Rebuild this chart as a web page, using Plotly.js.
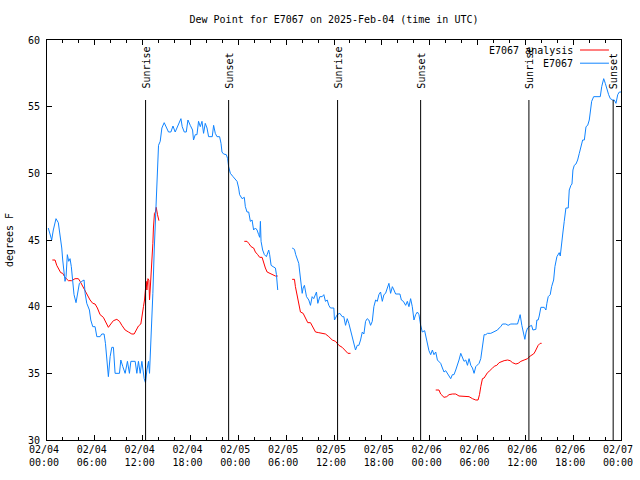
<!DOCTYPE html>
<html>
<head>
<meta charset="utf-8">
<script src="https://cdn.plot.ly/plotly-3.0.1.min.js"></script>
<style>html,body{margin:0;padding:0;background:#fff;}#chart{width:640px;height:480px;}</style>
</head>
<body>
<div id="chart"></div>
<script>
// ---- Data (hours after 2025-02-04 00:00 UTC, dew point in °F; null = gap) ----
const chartTitle = "Dew Point for E7067 on 2025-Feb-04 (time in UTC)";
const yTitle = "degrees F";
const seriesNames = ["E7067 analysis", "E7067"];

const blueHours = [0.16,0.29,0.59,0.79,1.13,1.42,1.63,1.85,1.97,2.14,
  2.26,2.39,2.55,2.73,2.89,3.05,3.23,3.39,3.64,3.81,
  4.06,4.36,4.65,4.78,4.99,5.32,5.49,5.74,6.03,6.25,
  6.66,6.87,7.16,7.33,7.50,7.70,7.92,8.13,8.33,8.54,
  9.09,9.26,9.51,9.80,10.09,10.34,10.52,10.77,11.06,11.27,
  11.47,11.69,11.90,12.19,12.35,12.53,12.73,12.86,13.07,13.28,
  13.45,13.61,13.79,13.99,14.20,14.41,14.70,14.95,15.24,15.54,
  15.80,16.08,16.37,16.62,16.80,16.96,17.22,17.47,17.68,17.97,
  18.26,18.38,18.60,18.81,19.01,19.23,19.44,19.64,19.85,20.07,
  20.27,20.73,20.90,21.11,21.32,21.65,21.83,21.95,22.15,22.49,
  22.66,22.78,23.00,23.34,23.62,23.84,24.04,24.16,24.47,24.75,
  24.88,25.09,25.30,25.51,25.72,25.92,26.14,26.35,26.55,26.68,
  26.77,26.85,27.05,27.27,27.52,27.68,27.81,27.93,28.11,28.36,
  28.65,28.78,28.94,
  null,
  30.75,31.04,31.20,31.38,31.58,31.70,31.88,32.01,32.13,32.29,
  32.55,32.84,33.05,33.26,33.46,33.68,33.80,33.97,34.22,34.52,
  34.72,34.93,35.15,35.35,35.56,35.98,36.06,36.40,36.73,37.03,
  37.23,37.45,37.66,37.86,38.07,38.29,38.49,38.70,38.92,39.12,
  39.33,39.55,39.75,39.96,40.17,40.37,40.59,40.80,41.00,41.22,
  41.43,41.63,41.84,42.06,42.26,42.47,42.69,42.89,43.10,43.32,
  43.52,43.73,44.27,44.45,44.70,44.99,45.20,45.40,45.61,45.82,
  46.03,46.24,46.46,46.66,46.87,47.08,47.37,47.62,47.91,48.13,
  48.34,48.54,48.76,48.97,49.17,49.38,49.60,49.80,50.01,50.22,
  50.43,50.64,50.85,51.05,51.27,51.48,51.68,51.90,52.11,52.31,
  52.53,52.74,52.94,53.16,53.37,53.57,53.78,54.00,54.20,54.41,
  54.62,54.83,55.04,55.25,55.67,56.08,56.51,56.71,56.92,57.14,
  57.55,57.84,58.18,58.60,59.02,59.22,59.35,59.56,59.78,59.94,
  60.10,60.28,60.48,60.78,60.95,61.32,61.45,61.61,61.74,61.95,
  62.37,62.58,62.70,62.87,63.12,63.30,63.55,63.71,63.96,64.25,
  64.38,64.55,64.72,64.88,65.09,65.38,65.51,65.72,65.85,65.97,
  66.14,66.35,66.56,66.77,66.98,67.19,67.40,67.61,67.82,68.02,
  68.15,68.32,68.57,68.86,69.40,69.58,69.83,70.03,70.24,70.45,
  70.66,70.96,71.16,71.37,71.59,71.79,72.00];

const blueDew = [45.9,45.6,45.0,45.75,46.6,46.3,45.5,44.4,43.5,42.25,
  41.9,42.25,43.9,43.4,43.6,43.0,41.75,40.9,40.3,41.0,
  41.75,41.9,42.0,41.0,40.25,39.75,39.0,38.5,38.5,37.75,
  37.75,37.95,37.95,37.25,35.75,34.75,36.25,36.95,36.95,35.0,
  35.0,36.0,35.5,35.0,35.9,35.0,35.9,35.9,35.9,35.0,
  35.9,35.0,35.9,34.6,34.3,35.25,35.9,35.0,37.5,41.0,
  44.25,47.0,50.0,52.1,52.4,53.4,53.8,53.5,53.1,53.1,
  53.55,53.1,53.5,53.9,54.1,53.5,53.1,53.1,54.0,53.6,
  53.25,52.5,52.9,52.9,53.9,53.5,53.9,53.0,53.75,53.4,
  52.75,52.75,53.6,53.0,52.75,52.75,52.25,51.6,51.45,51.4,
  51.1,50.5,50.0,49.75,49.5,49.4,48.9,48.4,48.1,48.2,
  47.5,47.1,47.1,46.4,46.5,45.75,45.9,45.75,45.4,45.2,
  46.4,44.9,44.25,43.9,43.75,44.0,44.25,43.9,43.1,43.0,
  42.9,42.4,41.25,
  null,
  44.4,44.3,43.9,43.6,43.25,42.6,41.75,41.0,41.4,41.6,
  40.75,40.5,40.1,40.75,40.6,41.0,41.1,40.25,40.75,40.75,
  40.9,40.4,40.5,40.1,39.9,39.9,39.0,39.4,39.5,39.25,
  39.25,38.6,39.1,38.75,38.25,37.75,37.25,36.75,37.1,37.1,
  37.5,38.1,37.95,38.9,39.1,39.0,38.6,38.9,40.0,40.5,
  40.4,40.9,41.1,40.4,40.9,41.0,41.4,41.75,41.0,41.5,
  41.25,40.95,40.95,40.5,40.4,40.1,40.4,40.0,40.6,40.0,
  39.0,39.4,39.6,39.4,38.6,38.1,38.2,37.5,36.7,36.4,
  36.75,36.4,36.6,36.0,35.9,35.75,35.4,35.1,35.2,35.0,
  34.9,34.6,34.9,34.9,35.25,35.6,36.0,36.5,36.25,35.9,
  36.0,35.6,36.1,35.6,35.4,35.0,35.5,35.6,35.75,36.1,
  36.9,37.9,37.9,38.0,38.0,38.1,38.25,38.4,38.5,38.7,
  38.7,38.6,38.7,38.7,38.7,39.1,39.4,38.6,38.1,37.55,
  38.1,38.4,38.5,38.6,38.25,38.3,39.0,39.0,39.3,39.95,
  39.95,39.75,40.25,40.75,40.9,41.5,42.0,43.0,43.75,44.05,
  43.8,44.9,45.6,46.4,47.4,47.4,48.75,49.1,49.2,50.25,
  50.6,50.7,51.0,51.5,52.0,52.5,52.5,53.5,53.6,54.0,
  54.6,55.4,55.75,55.75,55.75,56.5,57.1,56.75,56.25,55.9,
  55.6,55.5,55.5,55.25,55.9,56.1,56.1];

const redHours = [0.67,1.01,1.22,1.42,1.72,1.97,2.26,2.68,3.10,3.52,
  3.93,4.15,4.56,4.99,5.40,5.74,6.03,6.32,6.66,7.07,
  7.41,7.70,8.00,8.33,8.76,9.09,9.39,9.80,10.22,10.64,
  10.93,11.18,11.47,11.77,11.90,12.10,12.23,12.35,12.44,12.53,
  12.66,12.78,12.86,12.94,13.07,13.19,13.28,13.35,13.48,13.61,
  13.70,13.86,14.04,
  null,
  24.75,25.09,25.30,25.60,25.92,26.14,26.43,26.68,26.98,27.18,
  27.39,27.61,27.81,28.24,28.65,28.94,
  null,
  30.75,31.04,31.16,31.38,31.58,31.79,32.13,32.42,32.71,33.05,
  33.39,33.68,34.09,34.52,34.93,35.35,35.78,36.19,36.61,37.03,
  37.45,37.74,38.07,
  null,
  48.76,49.17,49.38,49.80,50.14,50.43,50.85,51.27,51.68,52.11,
  52.53,52.94,53.37,53.78,54.07,54.25,54.41,54.62,54.83,55.04,
  55.25,55.46,55.67,55.88,56.17,56.42,56.71,57.01,57.34,57.77,
  58.09,58.39,58.81,59.10,59.44,59.85,60.28,60.61,61.03,61.20,
  61.45,61.61,61.86,62.04];

const redDew = [43.5,43.5,43.1,42.9,42.55,42.5,42.2,41.95,41.95,42.1,
  42.1,41.9,41.45,41.0,40.5,40.25,40.2,39.9,39.4,39.2,
  38.75,38.45,38.7,38.95,39.05,38.9,38.6,38.25,38.1,37.95,
  37.95,38.2,38.55,38.7,39.1,40.0,40.5,41.4,41.9,41.25,
  42.1,42.0,40.5,41.25,42.4,43.5,44.75,45.9,47.0,47.1,
  47.45,46.9,46.45,
  null,
  44.9,44.9,44.75,44.5,44.4,44.1,43.9,43.7,43.7,43.25,
  42.9,42.6,42.55,42.45,42.3,42.3,
  null,
  42.05,42.05,41.5,40.75,40.1,39.6,39.5,39.1,38.8,38.8,
  38.4,38.1,38.05,38.0,37.95,37.75,37.5,37.4,37.1,36.95,
  36.7,36.5,36.5,
  null,
  33.75,33.75,33.45,33.2,33.25,33.4,33.45,33.45,33.3,33.3,
  33.3,33.25,33.1,33.0,33.0,33.4,34.0,34.6,34.65,34.9,
  35.05,35.15,35.3,35.4,35.55,35.6,35.8,35.9,35.95,36.0,
  35.95,35.8,35.7,35.75,35.9,36.0,36.1,36.3,36.45,36.6,
  36.9,37.1,37.25,37.25];

const sunTimes = ["2025-02-04 12:22","2025-02-04 22:47","2025-02-05 12:27",
                  "2025-02-05 22:52","2025-02-06 12:27","2025-02-06 23:01"];
const sunLabels = ["Sunrise","Sunset","Sunrise","Sunset","Sunrise","Sunset"];

// ---- helpers ----
const baseMs = Date.UTC(2025, 1, 4, 0, 0, 0);
function toDate(h) {
  if (h === null) return null;
  return new Date(baseMs + h * 3600000).toISOString().replace('T', ' ').slice(0, 19);
}

const RED = 'rgb(255,0,0)';
const BLUE = 'rgb(16,132,255)';
const FONT = 'DejaVu Sans Mono, Liberation Mono, monospace';

const traces = [
  { type: 'scatter', mode: 'lines', name: seriesNames[0],
    x: redHours.map(toDate), y: redDew,
    line: { color: RED, width: 1 }, showlegend: false, connectgaps: false },
  { type: 'scatter', mode: 'lines', name: seriesNames[1],
    x: blueHours.map(toDate), y: blueDew,
    line: { color: BLUE, width: 1 }, showlegend: false, connectgaps: false }
];

const shapes = sunTimes.map(t => ({
  type: 'line', xref: 'x', yref: 'paper', x0: t, x1: t, y0: 0, y1: 0.85,
  line: { color: 'black', width: 1 }
}));

const annotations = sunTimes.map((t, i) => ({
  x: t, xref: 'x', y: 0.875, yref: 'paper', text: sunLabels[i],
  textangle: -90, showarrow: false, xanchor: 'center', yanchor: 'bottom',
  font: { family: FONT, size: 10, color: 'black' }, borderpad: 0
}));

// manual key (text on the left, line sample on the right, like the original)
const keyColors = [RED, BLUE];
const keyRows = [0.975, 0.942];
seriesNames.forEach((nm, i) => {
  annotations.push({ xref: 'paper', yref: 'paper', x: 0.918, y: keyRows[i],
    text: nm, showarrow: false, xanchor: 'right', yanchor: 'middle', borderpad: 0,
    font: { family: FONT, size: 10, color: 'black' } });
  shapes.push({ type: 'line', xref: 'paper', yref: 'paper',
    x0: 0.9286, x1: 0.979, y0: keyRows[i], y1: keyRows[i],
    line: { color: keyColors[i], width: 1 } });
});

const layout = {
  width: 640, height: 480,
  margin: { l: 47, r: 19, t: 40, b: 40, pad: 0 },
  paper_bgcolor: 'white', plot_bgcolor: 'white',
  font: { family: FONT, size: 10, color: 'black' },
  title: { text: chartTitle, xref: 'paper', x: 0.5, xanchor: 'center',
           yref: 'container', y: 0.96, yanchor: 'middle',
           font: { family: FONT, size: 10, color: 'black' } },
  xaxis: {
    type: 'date',
    range: ['2025-02-04 00:00:00', '2025-02-07 00:00:00'],
    tick0: '2025-02-04 00:00:00', dtick: 6 * 3600000,
    tickformat: '%m/%d<br>%H:%M',
    ticks: 'inside', ticklen: 5, tickcolor: 'black', tickwidth: 1,
    ticklabelshift: -3,
    minor: { dtick: 2 * 3600000, ticks: 'inside', ticklen: 3, tickcolor: 'black', showgrid: false },
    showline: true, linecolor: 'black', linewidth: 1, mirror: 'allticks',
    showgrid: false, zeroline: false,
    tickfont: { family: FONT, size: 10, color: 'black' }
  },
  yaxis: {
    range: [30, 60], dtick: 5, tick0: 30,
    ticks: 'inside', ticklen: 5, tickcolor: 'black', tickwidth: 1,
    ticklabelstandoff: 4,
    showline: true, linecolor: 'black', linewidth: 1, mirror: 'allticks',
    showgrid: false, zeroline: false,
    tickfont: { family: FONT, size: 10, color: 'black' },
    title: { text: yTitle, standoff: 12, font: { family: FONT, size: 10, color: 'black' } }
  },
  shapes: shapes,
  annotations: annotations,
  showlegend: false
};

Plotly.newPlot('chart', traces, layout, { staticPlot: true, displayModeBar: false });
</script>
</body>
</html>
